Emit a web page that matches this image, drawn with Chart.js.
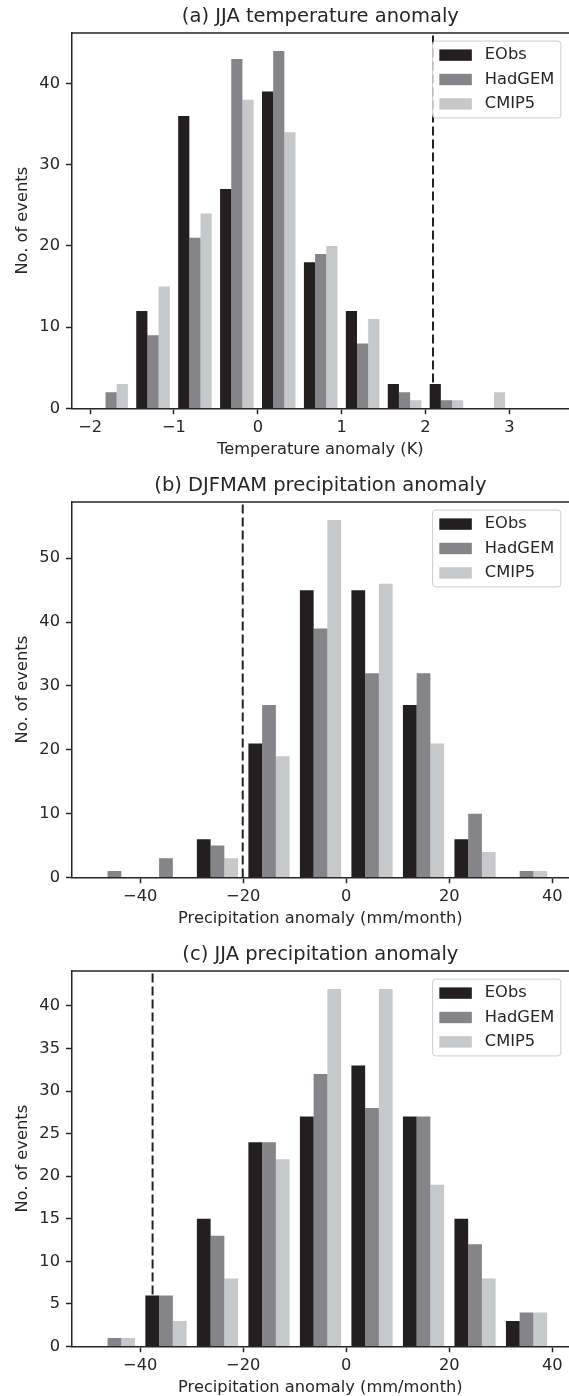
<!DOCTYPE html>
<html><head><meta charset="utf-8">
<script src="https://cdn.jsdelivr.net/npm/chart.js@4.4.1/dist/chart.umd.min.js"></script>
<style>
html,body{margin:0;padding:0;background:#fff;overflow:hidden;width:569px;height:1396px;}
canvas{position:absolute;left:0;display:block;}
</style></head><body>
<canvas id="cA" width="569" height="469" style="top:0px;width:569px;height:469px"></canvas>
<canvas id="cB" width="569" height="469" style="top:469px;width:569px;height:469px"></canvas>
<canvas id="cC" width="569" height="469" style="top:938px;width:569px;height:469px"></canvas>
<script>
// ---------- data ----------
const seriesNames = ['EObs', 'HadGEM', 'CMIP5'];
const seriesColors = ['#231f20', '#858589', '#c7c8ca'];

// (a) JJA temperature anomaly, bins of 0.5 K
const tempBinCenters = [-1.75, -1.25, -0.75, -0.25, 0.25, 0.75, 1.25, 1.75, 2.25, 2.75];
const tempEObs   = [0, 12, 36, 27, 39, 18, 12, 3, 3, 0];
const tempHadGEM = [2, 9, 21, 43, 44, 19, 8, 2, 1, 0];
const tempCMIP5  = [3, 15, 24, 38, 34, 20, 11, 1, 1, 2];
const tempThreshold = 2.09;
const tempXTicks = [-2, -1, 0, 1, 2, 3];
const tempYTicks = [0, 10, 20, 30, 40];

// (b) DJFMAM precipitation anomaly, bins of 10 mm/month
const precipBinCenters = [-45, -35, -25, -15, -5, 5, 15, 25, 35];
const djfEObs   = [0, 0, 6, 21, 45, 45, 27, 6, 0];
const djfHadGEM = [1, 3, 5, 27, 39, 32, 32, 10, 1];
const djfCMIP5  = [0, 0, 3, 19, 56, 46, 21, 4, 1];
const djfThreshold = -20.1;
const djfYTicks = [0, 10, 20, 30, 40, 50];

// (c) JJA precipitation anomaly
const jjaEObs   = [0, 6, 15, 24, 27, 33, 27, 15, 3];
const jjaHadGEM = [1, 6, 13, 24, 32, 28, 27, 12, 4];
const jjaCMIP5  = [1, 3, 8, 22, 42, 42, 19, 8, 4];
const jjaThreshold = -37.6;
const jjaYTicks = [0, 5, 10, 15, 20, 25, 30, 35, 40];

const precipXTicks = [-40, -20, 0, 20, 40];

// ---------- styling ----------
const FONT = 'DejaVu Sans';
const INK = '#262626';
const FS = 16.25;

const framePlugin = {
  id: 'frameAndLegend',
  afterDatasetsDraw(chart) {
    const {ctx, chartArea: a} = chart;
    ctx.save();
    // top spine
    ctx.strokeStyle = INK;
    ctx.lineWidth = 1.5;
    ctx.beginPath();
    ctx.moveTo(a.left, a.top);
    ctx.lineTo(a.right, a.top);
    ctx.stroke();
    // legend
    const items = chart.data.datasets.filter(d => d.type !== 'line');
    ctx.font = FS + 'px "' + FONT + '"';
    let maxW = 0;
    items.forEach(d => { maxW = Math.max(maxW, ctx.measureText(d.label).width); });
    const pad = 6.7, handleL = 32.5, handleGap = 13, rowH = 24.4, edge = 14;
    const w = pad + handleL + handleGap + maxW + pad;
    const h = edge * 2 + rowH * (items.length - 1);
    const right = a.right - 8.1, top = a.top + 8.1, left = right - w;
    const r = 3;
    ctx.beginPath();
    ctx.moveTo(left + r, top);
    ctx.lineTo(right - r, top);
    ctx.arcTo(right, top, right, top + r, r);
    ctx.lineTo(right, top + h - r);
    ctx.arcTo(right, top + h, right - r, top + h, r);
    ctx.lineTo(left + r, top + h);
    ctx.arcTo(left, top + h, left, top + h - r, r);
    ctx.lineTo(left, top + r);
    ctx.arcTo(left, top, left + r, top, r);
    ctx.closePath();
    ctx.fillStyle = 'rgba(255,255,255,0.8)';
    ctx.fill();
    ctx.strokeStyle = '#cccccc';
    ctx.lineWidth = 1;
    ctx.stroke();
    items.forEach((d, i) => {
      const cy = top + edge + i * rowH;
      ctx.fillStyle = d.backgroundColor;
      ctx.fillRect(left + pad, cy - 5.7, handleL, 11.4);
      ctx.fillStyle = INK;
      ctx.textBaseline = 'middle';
      ctx.textAlign = 'left';
      ctx.fillText(d.label, left + pad + handleL + handleGap, cy);
    });
    ctx.restore();
  }
};

function fmt(v) { return String(v).replace('-', '\u2212'); }

function makeChart(id, title, xTitle, centers, series, threshold, xMin, xMax, yMax, xTicks, yTicks) {
  const datasets = series.map((vals, i) => ({
    type: 'bar',
    label: seriesNames[i],
    data: centers.map((c, j) => ({x: c, y: vals[j]})),
    backgroundColor: seriesColors[i],
    borderWidth: 0,
    categoryPercentage: 0.8,
    barPercentage: 1.0
  }));
  datasets.push({
    type: 'line',
    label: 'threshold',
    data: [{x: threshold, y: 0}, {x: threshold, y: yMax}],
    borderColor: '#222222',
    borderWidth: 2,
    borderDash: [9, 4],
    pointRadius: 0,
    fill: false
  });
  return new Chart(document.getElementById(id), {
    type: 'bar',
    data: {datasets},
    plugins: [framePlugin],
    options: {
      responsive: false,
      animation: false,
      devicePixelRatio: 1,
      layout: {padding: 0},
      plugins: {
        legend: {display: false},
        tooltip: {enabled: false},
        title: {
          display: true, text: title, fullSize: false, color: INK,
          font: {family: FONT, size: 19.5, weight: 'normal'},
          padding: {top: 5, bottom: 4.6}
        }
      },
      scales: {
        x: {
          type: 'linear', min: xMin, max: xMax, offset: false,
          afterBuildTicks: s => { s.ticks = xTicks.map(v => ({value: v})); },
          afterFit: s => { s.height = 60.5; },
          ticks: {autoSkip: false, maxRotation: 0, padding: 4, color: INK,
                  font: {family: FONT, size: FS}, callback: v => fmt(v)},
          grid: {display: true, drawOnChartArea: false, drawTicks: true, tickLength: 5.7,
                 tickWidth: 1.5, tickColor: INK, color: INK, offset: false},
          border: {display: true, color: INK, width: 1.5},
          title: {display: true, text: xTitle, color: INK,
                  font: {family: FONT, size: FS, weight: 'normal'},
                  padding: {top: 0, bottom: 9.25}}
        },
        y: {
          type: 'linear', min: 0, max: yMax,
          afterBuildTicks: s => { s.ticks = yTicks.map(v => ({value: v})); },
          afterFit: s => { s.width = 71.7; },
          ticks: {autoSkip: false, padding: 6, color: INK,
                  font: {family: FONT, size: FS}, callback: v => fmt(v)},
          grid: {display: true, drawOnChartArea: false, drawTicks: true, tickLength: 5.7,
                 tickWidth: 1.5, tickColor: INK, color: INK},
          border: {display: true, color: INK, width: 1.5},
          title: {display: true, text: 'No. of events', color: INK,
                  font: {family: FONT, size: FS, weight: 'normal'},
                  padding: {top: 13.5, bottom: 0}}
        }
      }
    }
  });
}

makeChart('cA', '(a) JJA temperature anomaly', 'Temperature anomaly (K)',
  tempBinCenters, [tempEObs, tempHadGEM, tempCMIP5], tempThreshold,
  -2.22, 3.712, 46.2, tempXTicks, tempYTicks);
makeChart('cB', '(b) DJFMAM precipitation anomaly', 'Precipitation anomaly (mm/month)',
  precipBinCenters, [djfEObs, djfHadGEM, djfCMIP5], djfThreshold,
  -53.3, 43.24, 58.8, precipXTicks, djfYTicks);
makeChart('cC', '(c) JJA precipitation anomaly', 'Precipitation anomaly (mm/month)',
  precipBinCenters, [jjaEObs, jjaHadGEM, jjaCMIP5], jjaThreshold,
  -53.3, 43.24, 44.1, precipXTicks, jjaYTicks);
</script>
</body></html>
